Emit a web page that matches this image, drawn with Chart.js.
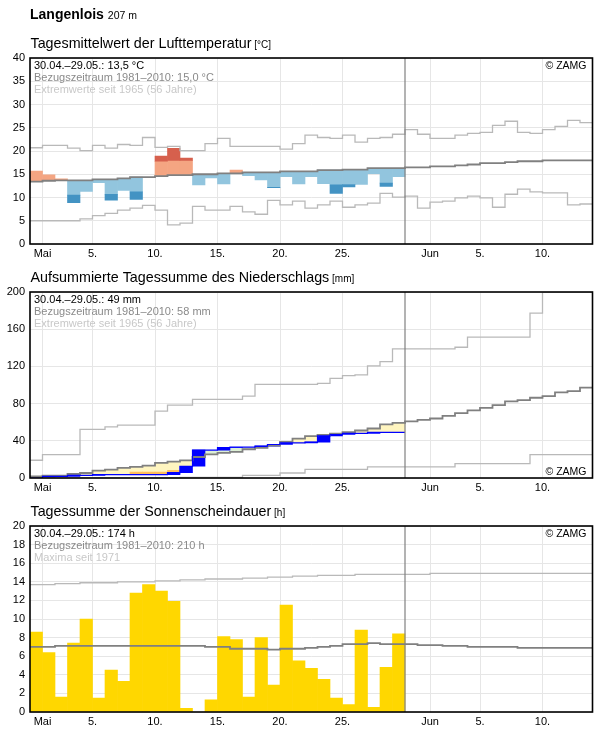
<!DOCTYPE html>
<html>
<head>
<meta charset="utf-8">
<script src="https://cdn.jsdelivr.net/npm/chart.js@4.4.1/dist/chart.umd.min.js"></script>
<style>
  html, body { margin: 0; padding: 0; background: #fff; overflow: hidden; }
  #wrap { position: relative; width: 596px; height: 729px; }
  canvas { position: absolute; left: 0; }
</style>
</head>
<body>
<div id="wrap">
  <canvas id="chartTemp" width="596" height="266" style="top:0px"></canvas>
  <canvas id="chartRain" width="596" height="266" style="top:234px"></canvas>
  <canvas id="chartSun" width="596" height="266" style="top:468px"></canvas>
</div>
<script>
// x axis: day index, 0 = 30.04., 1 = 1. Mai ... 44 = 13. Juni
const tickDays = [1, 5, 10, 15, 20, 25, 32, 36, 41];
const tickLabels = ['Mai', '5.', '10.', '15.', '20.', '25.', 'Jun', '5.', '10.'];
const periodEnd = 30;   // 30.04.–29.05.
const dayCount = 45;

// --- Lufttemperatur (°C) ---
const tempObs = [15.7, 14.9, 14.0, 8.9, 11.3, 13.2, 9.4, 11.5, 9.6, 14.4,
  18.9, 20.6, 18.5, 12.7, 14.2, 12.9, 15.9, 14.7, 13.8, 12.1,
  14.5, 12.9, 14.5, 13.0, 10.9, 12.3, 12.8, 15.1, 12.4, 14.5];
const tempNorm = [13.4, 13.6, 13.7, 13.7, 13.7, 13.9, 13.9, 14.1, 14.4, 14.4,
  14.6, 14.8, 14.8, 15.0, 15.0, 15.2, 15.2, 15.4, 15.4, 15.4,
  15.6, 15.6, 15.6, 15.9, 15.9, 16.0, 16.0, 16.3, 16.3, 16.3,
  16.5, 16.5, 16.7, 16.7, 16.9, 17.1, 17.4, 17.4, 17.6, 17.8,
  17.8, 18.0, 18.0, 18.0, 18.0];
const tempMax = [20.7, 21.2, 21.2, 20.6, 20.1, 21.2, 20.6, 21.4, 21.2, 22.9,
  20.8, 21.0, 20.1, 20.1, 21.6, 22.7, 21.0, 21.0, 21.0, 21.0,
  20.4, 21.6, 23.4, 22.9, 22.7, 23.4, 21.9, 22.7, 22.9, 23.6,
  24.6, 23.6, 22.7, 22.7, 23.4, 23.8, 24.0, 25.5, 26.4, 24.0,
  23.8, 24.6, 25.3, 26.6, 26.1];
const tempMin = [5.0, 5.0, 5.0, 5.0, 5.4, 6.1, 6.6, 7.3, 7.7, 8.3,
  7.3, 4.1, 4.5, 8.1, 7.3, 7.3, 8.1, 6.9, 6.4, 9.4,
  8.4, 9.2, 7.7, 8.4, 9.2, 7.9, 8.4, 8.8, 10.9, 10.1,
  10.3, 7.7, 9.0, 9.2, 9.9, 10.3, 9.9, 7.9, 10.7, 11.8,
  11.2, 11.0, 11.0, 8.4, 8.6];
const tempSpread = 3.2;  // beyond this deviation the darker shade is used

// --- Niederschlag, aufsummiert (mm) ---
const rainObs = [0, 1.8, 1.8, 2.9, 2.9, 3.6, 3.6, 3.6, 3.6, 3.6,
  3.6, 5.8, 12.6, 29.9, 29.9, 32.8, 33.1, 33.1, 34.2, 36.0,
  37.8, 37.8, 38.5, 45.3, 46.8, 47.9, 47.9, 49.0, 49.0, 49.0];
const rainNorm = [1.8, 2.5, 2.5, 4.3, 5.4, 7.9, 9.0, 10.8, 11.9, 13.3,
  16.2, 17.6, 19.0, 22.6, 25.5, 27.0, 28.1, 30.9, 32.4, 34.9,
  38.9, 42.4, 45.0, 46.4, 47.8, 49.3, 51.1, 53.2, 57.6, 59.3,
  60.8, 62.6, 64.0, 66.9, 69.8, 72.7, 75.5, 78.4, 82.4, 83.8,
  86.3, 88.1, 92.1, 93.5, 97.1];
const rainMax = [19.1, 25.2, 25.2, 25.2, 52.2, 52.2, 55.0, 56.8, 56.8, 56.8,
  71.9, 78.4, 78.4, 84.5, 84.5, 84.5, 84.5, 88.1, 100.7, 100.7,
  100.7, 100.7, 100.7, 101.8, 107.2, 110.1, 110.8, 120.5, 125.2, 138.8,
  138.8, 138.8, 138.8, 138.8, 140.6, 151.4, 151.4, 151.4, 151.4, 151.4,
  177.3, 200, 200, 200, 200];
const rainMin = [0, 0, 0, 0, 0, 0, 0, 0, 0, 0,
  0, 0, 0.7, 0.7, 0.7, 0.7, 0.7, 2.9, 2.9, 2.9,
  5.4, 5.4, 9.2, 9.2, 9.2, 9.2, 9.2, 12.0, 12.0, 12.0,
  12.0, 12.0, 12.0, 12.0, 15.5, 15.5, 15.5, 15.5, 15.5, 15.5,
  25.2, 25.2, 25.2, 25.2, 25.2];
const rainDry = [1.8, null, null, null, null, null, null, null, 6.5, 6.5,
  6.5, 8.3, null, null, null, null, null, null, null, null,
  null, null, null, null, null, null, null, null, null, null];

// --- Sonnenscheindauer (h) ---
const sunObs = [8.6, 6.4, 1.6, 7.4, 10.0, 1.5, 4.5, 3.3, 12.8, 13.7,
  13.0, 11.9, 0.4, 0, 1.3, 8.1, 7.8, 1.6, 8.0, 2.9,
  11.5, 5.5, 4.7, 3.5, 1.5, 0.8, 8.8, 0.5, 4.8, 8.4];
const sunNorm = [7.0, 7.0, 7.1, 7.1, 7.1, 7.1, 7.1, 7.1, 7.1, 7.1,
  7.1, 7.1, 7.1, 7.1, 7.0, 7.0, 6.8, 6.8, 6.8, 6.7,
  6.8, 6.8, 6.9, 7.0, 7.1, 7.3, 7.3, 7.4, 7.3, 7.3,
  7.3, 7.2, 7.2, 7.1, 7.1, 7.0, 7.0, 7.0, 7.0, 6.9,
  6.9, 6.9, 6.9, 6.9, 6.9];
const sunMax = [13.7, 13.7, 13.8, 13.8, 13.9, 13.9, 13.9, 14.0, 14.0, 14.0,
  14.1, 14.1, 14.2, 14.2, 14.3, 14.3, 14.3, 14.4, 14.4, 14.5,
  14.5, 14.6, 14.6, 14.7, 14.7, 14.7, 14.8, 14.8, 14.8, 14.8,
  14.8, 14.8, 14.9, 14.9, 14.9, 14.9, 14.9, 14.9, 14.9, 14.9,
  14.9, 14.9, 14.9, 14.9, 14.9];

const FONT = '"Liberation Sans", Arial, Helvetica, sans-serif';
const GRID = '#e6e6e6';
const NORM_GRAY = '#808080';
const EXT_GRAY = '#b9b9b9';

Chart.defaults.font.family = FONT;
Chart.defaults.font.size = 11;
Chart.defaults.color = '#000';

// value of day i holds from x=i to x=i+1
function stepPoints(values) {
  const pts = values.map((v, i) => ({ x: i, y: v }));
  pts.push({ x: values.length, y: values[values.length - 1] });
  return pts;
}

function stepLine(values, color, width, order) {
  return {
    type: 'line', data: stepPoints(values), stepped: true,
    borderColor: color, borderWidth: width, pointRadius: 0,
    fill: false, order: order
  };
}

// floating bars from pairs [lo, hi] per day
function spanBars(pairs, color, order) {
  const data = [];
  pairs.forEach((p, i) => {
    if (p && p[1] - p[0] > 0) data.push({ x: i + 0.5, y: [p[0], p[1]] });
  });
  return {
    type: 'bar', data: data, backgroundColor: color, borderWidth: 0,
    barPercentage: 1, categoryPercentage: 1, grouped: false, order: order
  };
}

function scales(yMax, yStep) {
  return {
    x: {
      type: 'linear', min: 0, max: dayCount, offset: false,
      grid: { color: GRID, lineWidth: 1, drawTicks: false, offset: false },
      border: { display: false },
      afterBuildTicks: s => { s.ticks = tickDays.map(v => ({ value: v })); },
      afterFit: s => { s.height = 22; },
      ticks: {
        autoSkip: false, maxRotation: 0, padding: 3,
        callback: v => tickLabels[tickDays.indexOf(v)]
      }
    },
    y: {
      type: 'linear', min: 0, max: yMax,
      grid: { color: GRID, lineWidth: 1, drawTicks: false },
      border: { display: false },
      afterFit: s => { s.width = 30; },
      ticks: { stepSize: yStep, padding: 5 }
    }
  };
}

function deco(cfg) {
  return {
    id: 'deco',
    afterDatasetsDraw(chart) {
      const { ctx, chartArea: a } = chart;
      const xEnd = chart.scales.x.getPixelForValue(periodEnd);
      ctx.save();
      ctx.strokeStyle = NORM_GRAY;
      ctx.lineWidth = 1.2;
      ctx.beginPath();
      ctx.moveTo(xEnd, a.top);
      ctx.lineTo(xEnd, a.bottom);
      ctx.stroke();
      ctx.strokeStyle = '#000';
      ctx.lineWidth = 1.6;
      ctx.strokeRect(a.left, a.top, a.right - a.left, a.bottom - a.top);
      ctx.restore();
    },
    afterDraw(chart) {
      const { ctx, chartArea: a } = chart;
      ctx.save();
      ctx.textBaseline = 'alphabetic';
      ctx.textAlign = 'left';
      if (cfg.header) {
        ctx.fillStyle = '#000';
        ctx.font = 'bold 14px ' + FONT;
        ctx.fillText(cfg.header[0], 30, 19);
        const w = ctx.measureText(cfg.header[0] + ' ').width;
        ctx.font = '10.5px ' + FONT;
        ctx.fillText(cfg.header[1], 30 + w, 19);
      }
      ctx.fillStyle = '#000';
      ctx.font = '14.3px ' + FONT;
      ctx.fillText(cfg.title, 30.5, a.top - 10.5);
      const tw = ctx.measureText(cfg.title).width;
      ctx.font = '10px ' + FONT;
      ctx.fillText(' ' + cfg.unit, 30.5 + tw, a.top - 10.5);

      const colors = ['#000', '#8a8a8a', '#c8c8c8'];
      ctx.font = '11px ' + FONT;
      cfg.lines.forEach((t, i) => {
        ctx.fillStyle = colors[i];
        ctx.fillText(t, a.left + 4, a.top + 10.5 + i * 12);
      });
      ctx.fillStyle = '#000';
      ctx.textAlign = 'right';
      ctx.font = '10.5px ' + FONT;
      const zy = cfg.zamgBottom ? a.bottom - 3 : a.top + 10.5;
      ctx.fillText('\u00a9 ZAMG', a.right - 6, zy);
      ctx.restore();
    }
  };
}

function makeChart(id, datasets, yMax, yStep, decoCfg) {
  return new Chart(document.getElementById(id), {
    type: 'line',
    data: { datasets: datasets },
    options: {
      responsive: false, animation: false, devicePixelRatio: 1,
      layout: { padding: { top: 58, right: 3.5, left: 0, bottom: 0 } },
      plugins: { legend: { display: false }, tooltip: { enabled: false } },
      scales: scales(yMax, yStep)
    },
    plugins: [deco(decoCfg)]
  });
}

// ---- temperature panel ----
const tLightUp = [], tDarkUp = [], tLightDn = [], tDarkDn = [];
tempObs.forEach((v, i) => {
  const n = tempNorm[i];
  if (v > n) {
    tLightUp.push([n, Math.min(v, n + tempSpread)]);
    tDarkUp.push(v > n + tempSpread ? [n + tempSpread, v] : null);
    tLightDn.push(null); tDarkDn.push(null);
  } else {
    tLightDn.push([Math.max(v, n - tempSpread), n]);
    tDarkDn.push(v < n - tempSpread ? [v, n - tempSpread] : null);
    tLightUp.push(null); tDarkUp.push(null);
  }
});

makeChart('chartTemp', [
  stepLine(tempNorm, NORM_GRAY, 1.8, 1),
  stepLine(tempMax, EXT_GRAY, 1.3, 2),
  stepLine(tempMin, EXT_GRAY, 1.3, 2),
  spanBars(tDarkUp, '#d6604d', 3),
  spanBars(tDarkDn, '#4393c3', 3),
  spanBars(tLightUp, '#f4a582', 4),
  spanBars(tLightDn, '#92c5de', 4)
], 40, 5, {
  header: ['Langenlois', '207 m'],
  title: 'Tagesmittelwert der Lufttemperatur', unit: '[°C]',
  lines: ['30.04.\u201329.05.: 13,5 °C', 'Bezugszeitraum 1981\u20132010: 15,0 °C', 'Extremwerte seit 1965 (56 Jahre)']
});

// ---- precipitation panel ----
const rWet = [], rShort = [], rVeryDry = [], rDaily = [];
rainObs.forEach((v, i) => {
  const n = rainNorm[i];
  rWet.push(v > n ? [n, v] : null);
  rShort.push(v < n ? [v, n] : null);
  rVeryDry.push(rainDry[i] != null && rainDry[i] > v ? [v, rainDry[i]] : null);
  const prev = i > 0 ? rainObs[i - 1] : 0;
  rDaily.push(v > prev ? [prev, v] : null);
});

makeChart('chartRain', [
  stepLine(rainObs, '#0000ff', 1.2, 0),
  stepLine(rainNorm, NORM_GRAY, 1.8, 1),
  stepLine(rainMax, EXT_GRAY, 1.3, 2),
  stepLine(rainMin, EXT_GRAY, 1.3, 2),
  spanBars(rDaily, '#0000ff', 3),
  spanBars(rVeryDry, '#fdbe5c', 4),
  spanBars(rShort, '#fff5c0', 5),
  spanBars(rWet, '#dcefd5', 5)
], 200, 40, {
  title: 'Aufsummierte Tagessumme des Niederschlags', unit: '[mm]',
  lines: ['30.04.\u201329.05.: 49 mm', 'Bezugszeitraum 1981\u20132010: 58 mm', 'Extremwerte seit 1965 (56 Jahre)'],
  zamgBottom: true
});

// ---- sunshine panel ----
makeChart('chartSun', [
  stepLine(sunNorm, NORM_GRAY, 1.8, 1),
  stepLine(sunMax, EXT_GRAY, 1.3, 2),
  spanBars(sunObs.map(v => [0, v]), '#ffd700', 3)
], 20, 2, {
  title: 'Tagessumme der Sonnenscheindauer', unit: '[h]',
  lines: ['30.04.\u201329.05.: 174 h', 'Bezugszeitraum 1981\u20132010: 210 h', 'Maxima seit 1971']
});
</script>
</body>
</html>
